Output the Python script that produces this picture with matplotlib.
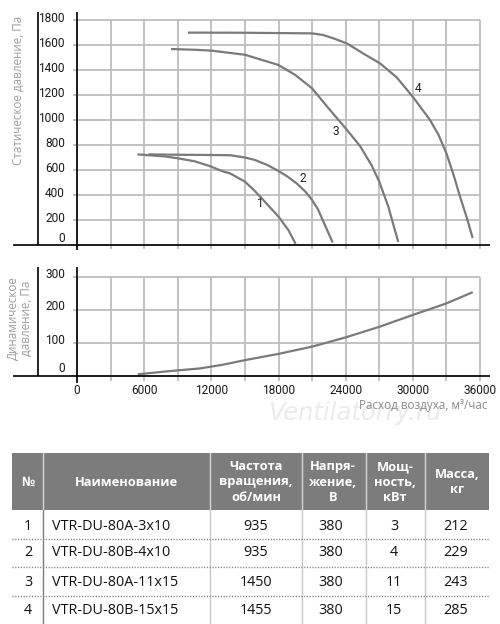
import matplotlib
matplotlib.use('Agg')
import matplotlib.pyplot as plt
import matplotlib.transforms as mtransforms
from matplotlib.lines import Line2D
from matplotlib.patches import Rectangle

W, H, DPI = 500, 624, 100

# ---------------- data ----------------
c1_x = [5400, 7900, 8900, 10500, 11900, 13000, 13670, 15000, 15850, 16640, 17300, 18000, 18450, 18880, 19200, 19530]
c1_y = [725, 708, 695, 670, 630, 590, 573, 507, 435, 360, 295, 227, 172, 120, 65, 10]

c2_x = [6370, 9000, 12000, 13700, 15000, 15900, 17000, 18000, 18800, 19620, 20400, 21000, 21500, 21950, 22400, 22840]
c2_y = [725, 722, 720, 718, 700, 680, 640, 592, 548, 493, 427, 360, 290, 200, 108, 20]

c3_x = [8400, 10500, 12000, 15000, 18000, 19500, 21000, 22600, 24000, 25300, 26300, 27000, 27810, 28300, 28700]
c3_y = [1568, 1562, 1555, 1522, 1440, 1360, 1253, 1080, 933, 790, 640, 507, 307, 150, 25]

c4_x = [9900, 15000, 21000, 22000, 23000, 24100, 25700, 27070, 28560, 30045, 31535, 32300, 33000, 33600, 34214, 34800, 35345]
c4_y = [1699, 1698, 1693, 1680, 1650, 1613, 1525, 1453, 1341, 1180, 1000, 880, 733, 572, 387, 225, 55]

dyn_x = [5420, 8000, 11000, 13000, 15000, 18000, 21000, 24000, 27000, 30000, 33000, 35350]
dyn_y = [5, 14, 23, 34, 48, 67, 89, 117, 149, 185, 220, 254]

curve_names = ['1', '2', '3', '4']
curve_label_x = [16250, 20200, 23150, 30450]
curve_label_y = [330, 530, 910, 1255]

static_ticks = [0, 200, 400, 600, 800, 1000, 1200, 1400, 1600, 1800]
dyn_ticks = [0, 100, 200, 300]
flow_ticks = [0, 6000, 12000, 18000, 24000, 30000, 36000]
flow_grid = [0, 3000, 6000, 9000, 12000, 15000, 18000, 21000, 24000, 27000, 30000, 33000, 36000]

hdr = ['№', 'Наименование', 'Частота\nвращения,\nоб/мин', 'Напря-\nжение,\nВ',
       'Мощ-\nность,\nкВт', 'Масса,\nкг']
t_no = ['1', '2', '3', '4']
t_name = ['VTR-DU-80A-3x10', 'VTR-DU-80B-4x10', 'VTR-DU-80A-11x15', 'VTR-DU-80B-15x15']
t_rpm = ['935', '935', '1450', '1455']
t_volt = ['380', '380', '380', '380']
t_kw = ['3', '4', '11', '15']
t_mass = ['212', '229', '243', '285']

# ---------------- style ----------------
NARROW = ['Liberation Sans Narrow', 'DejaVu Sans Condensed', 'Roboto', 'DejaVu Sans']
SANS = ['Open Sans', 'DejaVu Sans']
GRID = '#bdbdbd'
CURVE = '#7a7a7a'

plt.rcParams['font.family'] = SANS

fig = plt.figure(figsize=(W / DPI, H / DPI), dpi=DPI)
fig.patch.set_facecolor('white')

# pixel -> figure transform (y downwards)
PX = mtransforms.Affine2D().scale(1 / W, -1 / H).translate(0, 1) + fig.transFigure


def px_line(x0, y0, x1, y1, **kw):
    fig.add_artist(Line2D([x0, x1], [y0, y1], transform=PX, **kw))


def setup(ax, ylim, yticks, hpx, xlabels):
    ax.set_xlim(0, 36000)
    ax.set_ylim(*ylim)
    ax.set_xticks(flow_ticks)
    ax.set_yticks(yticks)
    for s in ax.spines.values():
        s.set_visible(False)
    ax.tick_params(axis='both', which='both', length=0)
    ax.tick_params(axis='y', pad=8.6, labelsize=8.6, labelcolor='#1a1a1a')
    ax.tick_params(axis='x', pad=5.6, labelsize=8.6, labelcolor='#1a1a1a',
                   labelbottom=xlabels)
    # grid lines (with small stubs outside the plotting area) as line collections
    ax.vlines(flow_grid, ylim[0] - (ylim[1] - ylim[0]) * 4.5 / hpx, ylim[1],
              colors=GRID, linewidths=1.3, clip_on=False, zorder=2)
    ax.hlines(yticks, -36000 * 4.5 / 403, 36000, colors=GRID, linewidths=1.3,
              clip_on=False, zorder=2)
    for lbl in ax.get_yticklabels() + ax.get_xticklabels():
        lbl.set_family(NARROW)


# ---------------- static pressure chart ----------------
ax1 = fig.add_axes([77 / W, 1 - 245 / H, 403 / W, 225 / H])
setup(ax1, (0, 1800), static_ticks, 225, False)
for xs, ys in [(c1_x, c1_y), (c2_x, c2_y), (c3_x, c3_y), (c4_x, c4_y)]:
    ax1.plot(xs, ys, color=CURVE, lw=1.6, solid_capstyle='butt', zorder=3)
for n, x, y in zip(curve_names, curve_label_x, curve_label_y):
    ax1.text(x, y, n, ha='center', va='center', fontsize=8.6, family=NARROW,
             color='#222222', zorder=4)
for i, lbl in enumerate(ax1.get_yticklabels()):
    dy = 8 if i == 0 else 2.5
    lbl.set_transform(lbl.get_transform() +
                      mtransforms.ScaledTranslation(0, dy / DPI, fig.dpi_scale_trans))

# ---------------- dynamic pressure chart ----------------
ax2 = fig.add_axes([77 / W, 1 - 376 / H, 403 / W, 99 / H])
setup(ax2, (0, 300), dyn_ticks, 99, True)
ax2.set_xticklabels([str(v) for v in flow_ticks])
for lbl in ax2.get_xticklabels():
    lbl.set_family(NARROW)
ax2.plot(dyn_x, dyn_y, color=CURVE, lw=1.6, solid_capstyle='butt', zorder=3)
for i, lbl in enumerate(ax2.get_yticklabels()):
    dy = 8.5 if i == 0 else 4.5
    lbl.set_transform(lbl.get_transform() +
                      mtransforms.ScaledTranslation(0, dy / DPI, fig.dpi_scale_trans))

# black frame lines
K = dict(color='black', lw=1.2, solid_capstyle='butt', zorder=5)
px_line(38, 12, 38, 245, **K)
px_line(77, 12, 77, 250, **K)
px_line(13, 245, 490, 245, **K)
px_line(38, 267, 38, 376, **K)
px_line(77, 267, 77, 383, **K)
px_line(13, 376, 490, 376, **K)

# axis titles
fig.text(18 / W, 1 - 90 / H, 'Статическое давление, Па', rotation=90, ha='center', va='center',
         fontsize=8.4, color='#9d9d9d')
fig.text(19.5 / W, 1 - 318 / H, 'Динамическое\nдавление, Па', rotation=90, ha='center',
         va='center', multialignment='center', linespacing=1.0, fontsize=8.4, color='#9d9d9d')
fig.text(355 / W, 1 - 413 / H, 'Ventilatorry.ru', ha='center', va='center', fontsize=17.5,
         style='italic', family=['DejaVu Sans'], color='#ebebeb', zorder=0)
fig.text(487 / W, 1 - 406 / H, 'Расход воздуха, м³/час', ha='right', va='center',
         fontsize=8.4, color='#8a8a8a', zorder=2)

# ---------------- table ----------------
cols = [12, 43, 210, 302, 366, 425, 489]
hdr_top, hdr_bot = 453, 510
row_lines = [539, 567, 596]
row_y = [526, 553, 583, 611]
fig.add_artist(Rectangle((cols[0], hdr_top), cols[-1] - cols[0], hdr_bot - hdr_top,
                         transform=PX, facecolor='#7c7c7c', edgecolor='none'))
for c in cols[1:-1]:
    px_line(c, hdr_top, c, hdr_bot, color='#d6d6d6', lw=1.0)
    px_line(c, hdr_bot, c, 624, color='#7c7c7c' if c == cols[1] else '#c8c8c8', lw=1.0)
for y in row_lines:
    px_line(cols[0], y, cols[-1], y, color='#7a7a7a', lw=1.0, linestyle=(0, (0.8, 1.2)))

hdr_x = [28, 126, 256, 333, 395, 457]
for x, t in zip(hdr_x, hdr):
    fig.text(x / W, 1 - 482 / H, t, ha='center', va='center', multialignment='center',
             fontsize=9.3, fontweight='bold', color='white', linespacing=1.25)

val_x = [256, 331, 394, 456]
for i, y in enumerate(row_y):
    fig.text(28 / W, 1 - y / H, t_no[i], ha='center', va='center', fontsize=10.4, color='#111111')
    fig.text(52 / W, 1 - y / H, t_name[i], ha='left', va='center', fontsize=10.4, color='#111111')
    for x, col in zip(val_x, [t_rpm, t_volt, t_kw, t_mass]):
        fig.text(x / W, 1 - y / H, col[i], ha='center', va='center', fontsize=10.4, color='#111111')

fig.savefig('out.png', dpi=DPI, facecolor='white')
